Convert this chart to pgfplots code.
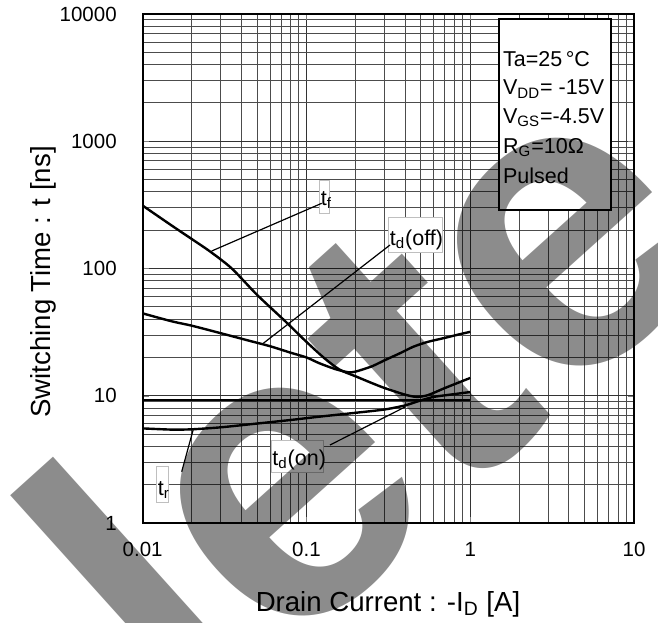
\documentclass[border=0pt]{standalone}
\usepackage{fontspec}
\setmainfont{Liberation Sans}
\usepackage{pgfplots}
\pgfplotsset{compat=1.18}
\newcommand\lbl{\fontsize{10.75}{12}\selectfont}
\begin{document}
\begin{tikzpicture}
\begin{axis}[
  scale only axis, width=245.65pt, height=254.5pt,
  xmode=log, ymode=log, xmin=0.01, xmax=10, ymin=1, ymax=10000,
  xtick={0.01,0.1,1,10}, xticklabels={0.01,0.1,1,10},
  ytick={1,10,100,1000,10000}, yticklabels={1,10,100,1000,10000},
  minor xtick={0.02,0.03,0.04,0.05,0.06,0.07,0.08,0.09,0.2,0.3,0.4,0.5,0.6,0.7,0.8,0.9,2,3,4,5,6,7,8,9},
  minor ytick={2,3,4,5,6,7,8,9,20,30,40,50,60,70,80,90,200,300,400,500,600,700,800,900,2000,3000,4000,5000,6000,7000,8000,9000},
  grid=both,
  major grid style={black!80, line width=0.5pt},
  minor grid style={black!70, line width=0.5pt},
  tick align=inside, major tick length=3pt, minor tick length=0pt,
  axis line style={line width=0.9pt},
  /pgf/number format/assume math mode=true,
  ticklabel style={font=\fontsize{10.25}{12}\selectfont, inner sep=0pt},
  xticklabel style={anchor=north, yshift=-9.3pt},
  yticklabel style={anchor=east, xshift=-12.8pt},
]
% t_f
\addplot[black, no markers, line width=1.2pt, smooth, tension=0.45] coordinates {(0.01,312) (0.015,218) (0.02,170) (0.026,135) (0.035,100) (0.05,62) (0.075,38) (0.1,26.5) (0.13,19.5) (0.16,16) (0.2,14.2) (0.25,12.6) (0.3,11.5) (0.4,10.2) (0.47,9.8) (0.55,10.1) (0.7,11.5) (0.85,12.7) (1,13.8)};
% t_d(off)
\addplot[black, no markers, line width=1.2pt, smooth, tension=0.45] coordinates {(0.01,44.4) (0.015,38.5) (0.02,35.5) (0.03,31) (0.045,27) (0.06,24.5) (0.08,21.8) (0.1,20) (0.12,18) (0.15,16.2) (0.18,15.3) (0.2,15.5) (0.25,17) (0.3,19) (0.37,21.5) (0.45,24.3) (0.55,26.5) (0.7,28.5) (0.85,30.3) (1,31.8)};
% flat
\addplot[black, no markers, line width=1.2pt] coordinates {(0.01,9.3) (1,9.3)};
% lower
\addplot[black, no markers, line width=1.2pt, smooth, tension=0.45] coordinates {(0.01,5.54) (0.015,5.42) (0.02,5.45) (0.03,5.65) (0.05,6.05) (0.08,6.45) (0.12,6.85) (0.2,7.35) (0.3,7.8) (0.4,8.4) (0.5,9.2) (0.6,9.8) (0.8,10.3) (1,10.7)};
\coordinate (TL) at (rel axis cs:0,1);
\end{axis}
\pgfresetboundingbox
\begin{scope}[x=0.5pt, y=-0.5pt, shift={(TL)}, shift={(-142.7,-14)}]
\path[use as bounding box] (0,0) rectangle (658,622);
% axis labels
\node[rotate=90, anchor=base, inner sep=0pt, font=\fontsize{13.8}{16}\selectfont] at (51,282) {Switching Time : t [ns]};
\node[anchor=base, inner sep=0pt, font=\fontsize{13.8}{16}\selectfont] at (388,611) {Drain Current : -I\textsubscript{D} [A]};
% condition box
\draw[line width=0.8pt, fill=white] (499,19.3) rectangle (610.7,210);
\node[anchor=base west, inner sep=0pt, font=\lbl] at (502.7,66.5) {Ta=25\,°C};
\node[anchor=base west, inner sep=0pt, font=\lbl] at (502.7,95) {V\textsubscript{DD}= -15V};
\node[anchor=base west, inner sep=0pt, font=\lbl] at (502.7,123.5) {V\textsubscript{GS}=-4.5V};
\node[anchor=base west, inner sep=0pt, font=\lbl] at (502.7,153) {R\textsubscript{G}=10Ω};
\node[anchor=base west, inner sep=0pt, font=\lbl] at (502.7,183) {Pulsed};
% annotation boxes
\draw[black!25, line width=0.5pt, fill=white] (319,180) rectangle (329,213);
\node[anchor=base west, inner sep=0pt, font=\lbl] at (320.5,205) {t\textsubscript{f}};
\draw[black!25, line width=0.5pt, fill=white] (388,217) rectangle (442,252);
\node[anchor=base west, inner sep=0pt, font=\lbl] at (389.5,245.5) {t\textsubscript{d}(off)};
\draw[black!25, line width=0.5pt, fill=white] (271,440) rectangle (323.5,472);
\node[anchor=base west, inner sep=0pt, font=\lbl] at (272,465.5) {t\textsubscript{d}(on)};
\draw[black!25, line width=0.5pt, fill=white] (156.7,466) rectangle (168.3,502);
\node[anchor=base west, inner sep=0pt, font=\lbl] at (157.5,495) {t\textsubscript{r}};
% pointers
\draw[line width=0.6pt] (211.7,251) -- (321.7,203.3);
\draw[line width=0.6pt] (263.3,343.3) -- (390,245);
\draw[line width=0.6pt] (330,445) -- (405,407);
\draw[line width=0.6pt] (181.7,471.7) -- (193.3,429.3);
% watermark
\node[rotate=42, anchor=base west, inner sep=0pt, text=black, text opacity=0.45, font=\bfseries\fontsize{210pt}{210pt}\selectfont] at (192,742) {lete};
\end{scope}
\end{tikzpicture}
\end{document}
